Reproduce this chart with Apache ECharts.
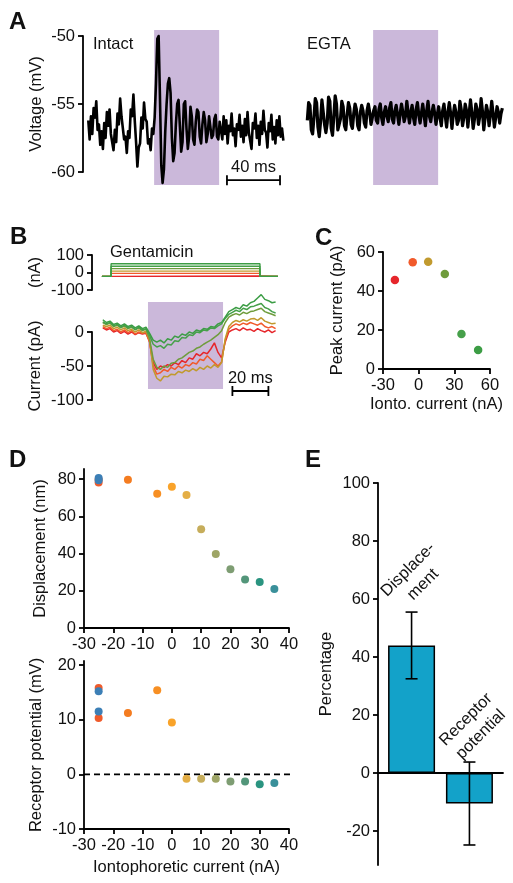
<!DOCTYPE html>
<html><head><meta charset="utf-8">
<script src="https://cdn.jsdelivr.net/npm/echarts@6/dist/echarts.min.js"></script>
<style>html,body{margin:0;padding:0;background:#fff}#c{width:513px;height:883px}</style>
</head><body><div id="c"></div>
<script>
// ================= DATA =================
// Panel A: membrane voltage (mV), sampled every 1 ms starting at 4 ms
const aTraceStart = 4, aTraceStep = 1;
const intactTrace = [
-56.2,-57.6,-55.9,-57.2,-55.3,-56.0,-54.8,-56.9,-56.5,-58.0,
-57.0,-58.3,-56.4,-57.5,-55.6,-56.6,-55.4,-57.2,-57.1,-58.4,
-56.9,-57.8,-55.7,-56.5,-54.6,-55.9,-55.8,-57.6,-57.4,-58.6,
-57.0,-57.5,-55.4,-55.9,-54.3,-56.2,-57.8,-59.6,-58.2,-57.9,
-56.0,-56.8,-54.9,-56.1,-56.3,-57.9,-57.6,-58.4,-56.8,-57.2,
-56.0,-53.5,-50.2,-50.0,-54.5,-59.5,-60.8,-59.8,-57.0,-55.0,
-53.5,-53.1,-54.2,-57.5,-59.2,-58.6,-56.5,-55.0,-54.7,-56.6,
-58.5,-57.8,-55.0,-54.8,-56.8,-58.3,-57.4,-55.2,-55.9,-57.6,
-58.0,-56.3,-55.4,-55.6,-57.4,-57.9,-56.5,-55.6,-56.2,-57.8,
-57.2,-55.9,-56.0,-57.5,-57.3,-56.1,-55.8,-57.4,-57.6,-56.3,
-56.4,-57.6,-55.9,-57.2,-56.2,-57.9,-56.6,-57.0,-55.7,-57.3,
-56.8,-58.1,-56.5,-56.9,-55.8,-57.4,-56.6,-57.8,-56.1,-57.3,
-55.6,-57.1,-57.0,-58.3,-56.4,-56.8,-55.7,-57.5,-56.6,-58.0,
-56.3,-57.2,-55.5,-56.9,-57.1,-58.2,-56.4,-57.0,-55.8,-57.6,
-56.7,-57.9,-56.2,-57.3,-55.9,-57.4,-56.8,-57.7];
const egtaTrace = [
-56.2,-54.9,-55.1,-56.9,-57.2,-56.0,-54.6,-54.9,-56.7,-57.4,
-56.3,-54.7,-54.6,-56.5,-57.1,-56.4,-54.5,-54.8,-56.8,-57.3,
-55.9,-54.4,-55.0,-56.9,-57.0,-56.1,-54.8,-55.2,-56.6,-56.9,
-55.8,-54.9,-55.3,-56.5,-56.8,-55.7,-55.0,-55.4,-56.6,-56.9,
-55.6,-55.1,-55.5,-56.4,-56.7,-55.5,-55.0,-55.6,-56.5,-56.6,
-55.5,-55.2,-56.2,-56.4,-55.4,-55.0,-56.0,-56.5,-55.6,-55.2,
-55.9,-56.3,-55.3,-54.9,-56.1,-56.4,-55.5,-55.1,-55.8,-56.5,
-55.7,-55.0,-55.6,-56.3,-55.9,-54.8,-55.7,-56.4,-55.6,-55.1,
-56.0,-56.5,-55.4,-54.9,-55.8,-56.4,-55.7,-55.0,-55.8,-56.6,
-55.5,-54.8,-55.9,-56.3,-55.6,-55.1,-55.7,-56.5,-55.8,-55.2,
-56.0,-56.6,-55.5,-55.0,-55.9,-56.7,-55.6,-54.9,-55.7,-56.8,
-55.8,-55.1,-55.6,-56.5,-56.2,-54.8,-55.4,-56.6,-56.0,-55.0,
-55.5,-56.7,-55.7,-54.7,-55.6,-56.8,-56.1,-55.0,-55.4,-56.5,
-55.9,-54.6,-55.5,-56.9,-56.0,-55.1,-55.6,-56.6,-55.8,-54.8,
-55.7,-56.7,-56.0,-55.2,-55.6,-56.4,-55.7,-55.3];
const aStim = [53.6, 102.6];          // ms, stimulus window
const aStimV = [-60.95, -49.55];      // mV extent of the shaded window
const aScale = [108.5, 148.5, -60.6]; // 40 ms scale bar

// Panel B: iontophoretic current steps (nA) and hair-cell currents (pA), sampled every 2 ms from 6 ms
const bIonto = [-20, -5, 8, 22, 36, 50];
const bHolding = -22;
const bStepTimes = [5.5, 10.6, 93.3, 103.3]; // start, on, off, end (ms)
const bTraceStart = 6, bTraceStep = 2;
const bCurRed = [6,3,5,0,2,-2,1,-3,0,-4,-1,-3,-2,
 -14,-45,-55,-50,-52,-48,-50,-45,-48,-42,-45,-38,-40,-32,-35,-30,-32,-25,-16,-30,-38,
 -15,0,3,5,2,6,3,4,1,5,2,0,3,-1,2];
const bCurOrange = [8,5,7,2,4,0,3,-1,2,-3,0,-2,-1,
 -15,-50,-62,-60,-55,-58,-52,-55,-50,-53,-48,-50,-45,-47,-40,-42,-35,-40,-45,-50,-44,
 -12,4,9,12,10,13,11,14,12,10,13,8,6,8,5];
const bCurGold = [10,8,10,5,7,3,6,2,4,0,3,-1,1,
 -12,-55,-68,-72,-65,-66,-62,-63,-58,-60,-56,-58,-54,-57,-52,-55,-50,-53,-48,-52,-45,
 -10,8,14,17,15,18,16,19,20,17,21,16,14,12,13];
const bCurOlive = [14,11,13,8,10,6,9,5,7,3,6,2,4,
 -10,-40,-52,-55,-50,-52,-46,-45,-40,-38,-34,-30,-28,-24,-22,-18,-15,-12,-8,-4,2,
 14,22,25,27,25,29,27,30,31,33,35,30,28,26,24];
const bCurGreen36 = [15,12,14,9,11,7,10,6,8,4,7,3,5,
 -5,-18,-22,-20,-24,-18,-19,-13,-14,-8,-9,-4,-5,0,-1,3,2,6,5,9,12,
 20,26,29,32,30,35,33,37,38,40,42,36,34,30,28];
const bCurGreen50 = [18,14,16,11,13,9,12,8,10,6,9,5,7,
 -2,-12,-15,-12,-16,-10,-12,-6,-8,-3,-5,0,-2,3,1,5,4,8,7,12,14,
 22,30,33,36,34,40,38,43,45,50,55,48,46,43,44];
const bStim = [31.1, 72.8];
const bStimI = [-84, 44];
const bScale = [78, 98, -86.8]; // 20 ms scale bar

// Panel C: peak current vs iontophoretic current
const cIonto = [-20, -5, 8, 22, 36, 50];
const cPeak = [45.6, 54.7, 55.0, 48.7, 17.9, 9.7];

// Panel D: displacement & receptor potential vs iontophoretic current
const dIonto = [-25, -25, -25, -25, -15, -5, 0, 5, 10, 15, 20, 25, 30, 35];
const dDisp = [79.8, 78.2, 80.5, 79.3, 79.6, 72.1, 75.9, 71.4, 53.1, 39.7, 31.5, 26.0, 24.7, 21.0];
const dRecep = [15.8, 10.3, 15.2, 11.5, 11.2, 15.4, 9.5, -0.8, -0.8, -0.8, -1.3, -1.3, -1.8, -1.6];
const dZeroLine = [-30, 42.7];

// Panel E: percentage change
const eCategories = ['Displace-\nment', 'Receptor\npotential'];
const ePos = [1, 2];
const eMean = [44.0, -10.5];
const eLow = [32.5, -24.8];
const eHigh = [55.5, 3.8];

// ================= STYLE =================
const FONT = '"Liberation Sans", Arial, Helvetica, sans-serif';
const FS = 16.5;
const TXT = '#111';
const bColors = ['#e6262b', '#f15a2b', '#c19a2e', '#6f9c3c', '#46a04a', '#3c9d45'];
const dColors = ['#ef5b2b', '#ef5b2b', '#3c7fb6', '#3c7fb6', '#f47c20', '#f78f23', '#f9a32a',
                 '#e4ae45', '#c6ad5b', '#9ea566', '#7e9d73', '#53967a', '#2a9480', '#3a909a'];
const purple = '#cbb8da';
const barColor = '#13a2c9';

const ts = {fontSize: FS, fontFamily: FONT, color: TXT};
function vAxis(grid, min, max, extra) {
  return Object.assign({
    gridIndex: grid, type: 'value', min: min, max: max,
    axisLine: {show: true, onZero: false, lineStyle: {color: '#000', width: 1.8}},
    axisTick: {show: true, length: 5, lineStyle: {color: '#000', width: 1.8}},
    axisLabel: {show: true, margin: 8, fontSize: FS, fontFamily: FONT, color: TXT},
    splitLine: {show: false},
    nameLocation: 'middle', nameMoveOverlap: false, nameTextStyle: ts
  }, extra || {});
}
function hidden(grid, min, max) {
  return {gridIndex: grid, type: 'value', min: min, max: max, show: false,
          axisLine: {onZero: false}, splitLine: {show: false}};
}

function series(arr, start, step) { return arr.map((v, i) => [start + i * step, v]); }

function rectItem(color) {
  return function (params, api) {
    const p0 = api.coord([api.value(0), api.value(3)]);
    const p1 = api.coord([api.value(1), api.value(2)]);
    return {type: 'rect', shape: {x: p0[0], y: p0[1], width: p1[0] - p0[0], height: p1[1] - p0[1]},
            style: {fill: color}};
  };
}
function scaleBarItem(label) {
  return function (params, api) {
    const a = api.coord([api.value(0), api.value(2)]);
    const b = api.coord([api.value(1), api.value(2)]);
    const ls = {stroke: '#000', lineWidth: 1.8};
    return {type: 'group', children: [
      {type: 'line', shape: {x1: a[0], y1: a[1], x2: b[0], y2: b[1]}, style: ls},
      {type: 'line', shape: {x1: a[0], y1: a[1] - 5, x2: a[0], y2: a[1] + 5}, style: ls},
      {type: 'line', shape: {x1: b[0], y1: b[1] - 5, x2: b[0], y2: b[1] + 5}, style: ls},
      {type: 'text', x: (a[0] + b[0]) / 2, y: a[1] - 13,
       style: {text: label, fill: TXT, fontSize: FS, fontFamily: FONT, align: 'center', verticalAlign: 'middle',
               textAlign: 'center', textVerticalAlign: 'middle'}}
    ]};
  };
}

const bCurrents = [bCurRed, bCurOrange, bCurGold, bCurOlive, bCurGreen36, bCurGreen50];

const seriesList = [];
// ---- A ----
seriesList.push({type: 'custom', xAxisIndex: 0, yAxisIndex: 0, z: 1, renderItem: rectItem(purple),
  data: [[aStim[0], aStim[1], aStimV[0], aStimV[1]]]});
seriesList.push({type: 'line', xAxisIndex: 0, yAxisIndex: 0, z: 3, clip: false, symbol: 'none',
  lineStyle: {color: '#000', width: 2.6, join: 'round'}, data: series(intactTrace, aTraceStart, aTraceStep)});
seriesList.push({type: 'custom', xAxisIndex: 0, yAxisIndex: 0, z: 3, renderItem: scaleBarItem('40 ms'),
  data: [aScale]});
seriesList.push({type: 'custom', xAxisIndex: 1, yAxisIndex: 1, z: 1, renderItem: rectItem(purple),
  data: [[aStim[0], aStim[1], aStimV[0], aStimV[1]]]});
seriesList.push({type: 'line', xAxisIndex: 1, yAxisIndex: 1, z: 3, clip: false, symbol: 'none',
  lineStyle: {color: '#000', width: 3.2, join: 'round'}, data: series(egtaTrace, aTraceStart, aTraceStep)});
// ---- B steps ----
bIonto.forEach((lvl, i) => {
  seriesList.push({type: 'line', xAxisIndex: 2, yAxisIndex: 2, z: 3, clip: false, symbol: 'none',
    lineStyle: {color: bColors[i], width: 1.4},
    data: [[bStepTimes[0], bHolding], [bStepTimes[1], bHolding], [bStepTimes[1], lvl],
           [bStepTimes[2], lvl], [bStepTimes[2], bHolding], [bStepTimes[3], bHolding]]});
});
// ---- B currents ----
seriesList.push({type: 'custom', xAxisIndex: 3, yAxisIndex: 3, z: 1, renderItem: rectItem(purple),
  data: [[bStim[0], bStim[1], bStimI[0], bStimI[1]]]});
bCurrents.forEach((arr, i) => {
  seriesList.push({type: 'line', xAxisIndex: 3, yAxisIndex: 3, z: 3, clip: false, symbol: 'none',
    lineStyle: {color: bColors[i], width: 1.5}, data: series(arr, bTraceStart, bTraceStep)});
});
seriesList.push({type: 'custom', xAxisIndex: 3, yAxisIndex: 3, z: 3, renderItem: scaleBarItem('20 ms'),
  data: [bScale]});
// ---- C ----
seriesList.push({type: 'scatter', xAxisIndex: 4, yAxisIndex: 4, symbolSize: 8.5, clip: false,
  data: cIonto.map((x, i) => ({value: [x, cPeak[i]], itemStyle: {color: bColors[i], opacity: 1}}))});
// ---- D ----
seriesList.push({type: 'scatter', xAxisIndex: 5, yAxisIndex: 5, symbolSize: 8, clip: false,
  data: dIonto.map((x, i) => ({value: [x, dDisp[i]], itemStyle: {color: dColors[i], opacity: 1}}))});
seriesList.push({type: 'line', xAxisIndex: 6, yAxisIndex: 6, clip: false, symbol: 'none', z: 1,
  lineStyle: {color: '#000', width: 1.8, type: [6, 4]}, data: [[dZeroLine[0], 0], [dZeroLine[1], 0]]});
seriesList.push({type: 'scatter', xAxisIndex: 6, yAxisIndex: 6, symbolSize: 8, clip: false, z: 3,
  data: dIonto.map((x, i) => ({value: [x, dRecep[i]], itemStyle: {color: dColors[i], opacity: 1}}))});
// ---- E ----
seriesList.push({type: 'bar', xAxisIndex: 7, yAxisIndex: 7, barWidth: 47, z: 2,
  itemStyle: {color: barColor, borderColor: '#000', borderWidth: 1.5},
  data: ePos.map((x, i) => [x, eMean[i]])});
seriesList.push({type: 'custom', xAxisIndex: 7, yAxisIndex: 7, z: 4,
  data: ePos.map((x, i) => [x, eLow[i], eHigh[i]]),
  renderItem: function (params, api) {
    const lo = api.coord([api.value(0), api.value(1)]);
    const hi = api.coord([api.value(0), api.value(2)]);
    const ls = {stroke: '#000', lineWidth: 1.6};
    return {type: 'group', children: [
      {type: 'line', shape: {x1: lo[0], y1: lo[1], x2: hi[0], y2: hi[1]}, style: ls},
      {type: 'line', shape: {x1: lo[0] - 6, y1: lo[1], x2: lo[0] + 6, y2: lo[1]}, style: ls},
      {type: 'line', shape: {x1: hi[0] - 6, y1: hi[1], x2: hi[0] + 6, y2: hi[1]}, style: ls}
    ]};
  }});
seriesList.push({type: 'custom', xAxisIndex: 7, yAxisIndex: 7, z: 4,
  data: ePos.map((x, i) => [x, eHigh[i]]),
  renderItem: function (params, api) {
    const p = api.coord([api.value(0), api.value(1)]);
    return {type: 'text', x: p[0] + 4, y: p[1] - 35, rotation: Math.PI / 4,
      style: {text: eCategories[params.dataIndex], fill: TXT, fontSize: FS, fontFamily: FONT, lineHeight: 21,
              align: 'center', verticalAlign: 'middle', textAlign: 'center', textVerticalAlign: 'middle'}};
  }});

function gtext(txt, x, y, opts) {
  return Object.assign({type: 'text', x: x, y: y,
    style: {text: txt, fill: TXT, font: (opts && opts.bold ? 'bold 24px ' : FS + 'px ') + FONT,
            textAlign: (opts && opts.align) || 'left', textVerticalAlign: 'middle',
            align: (opts && opts.align) || 'left', verticalAlign: 'middle'}});
}

const option = {
  animation: false,
  backgroundColor: '#fff',
  grid: [
    {left: 83, top: 36, width: 203, height: 136, outerBoundsMode: 'none'},
    {left: 302, top: 36, width: 203, height: 136, outerBoundsMode: 'none'},
    {left: 92, top: 255, width: 189, height: 35, outerBoundsMode: 'none'},
    {left: 92, top: 332, width: 189, height: 68, outerBoundsMode: 'none'},
    {left: 383, top: 252, width: 107, height: 117, outerBoundsMode: 'none'},
    {left: 84, top: 469, width: 205, height: 159, outerBoundsMode: 'none'},
    {left: 84, top: 661, width: 205, height: 168, outerBoundsMode: 'none'},
    {left: 378, top: 483, width: 125, height: 382, outerBoundsMode: 'none'}
  ],
  xAxis: [
    hidden(0, 0, 153),
    hidden(1, 0, 153),
    hidden(2, 0, 105),
    hidden(3, 0, 105),
    vAxis(4, -30, 60, {interval: 30, name: 'Ionto. current (nA)', nameGap: 27}),
    vAxis(5, -30, 40, {interval: 10}),
    vAxis(6, -30, 40, {interval: 10, name: 'Iontophoretic current (nA)', nameGap: 30}),
    {gridIndex: 7, type: 'value', min: 0.42, max: 2.58,
     axisLine: {show: true, onZero: true, lineStyle: {color: '#000', width: 1.8}},
     axisTick: {show: false}, axisLabel: {show: false}, splitLine: {show: false}}
  ],
  yAxis: [
    vAxis(0, -60, -50, {interval: 5, name: 'Voltage (mV)', nameGap: 38}),
    hidden(1, -60, -50),
    vAxis(2, -100, 100, {interval: 100, name: '(nA)', nameGap: 48}),
    vAxis(3, -100, 0, {interval: 50, name: 'Current (pA)', nameGap: 48}),
    vAxis(4, 0, 60, {interval: 20, name: 'Peak current (pA)', nameGap: 37}),
    vAxis(5, 0, 85.4, {name: 'Displacement (nm)', nameGap: 35,
      axisLabel: {margin: 8, fontSize: FS, fontFamily: FONT, color: TXT, customValues: [0, 20, 40, 60, 80]},
      axisTick: {show: true, length: 5, lineStyle: {color: '#000', width: 1.8}, customValues: [0, 20, 40, 60, 80]}}),
    vAxis(6, -10, 20.73, {name: 'Receptor potential (mV)', nameGap: 39,
      axisLabel: {margin: 8, fontSize: FS, fontFamily: FONT, color: TXT, customValues: [-10, 0, 10, 20]},
      axisTick: {show: true, length: 5, lineStyle: {color: '#000', width: 1.8}, customValues: [-10, 0, 10, 20]}}),
    vAxis(7, -31.7, 100, {name: 'Percentage', nameGap: 43,
      axisLabel: {margin: 8, fontSize: FS, fontFamily: FONT, color: TXT, customValues: [-20, 0, 20, 40, 60, 80, 100]},
      axisTick: {show: true, length: 5, lineStyle: {color: '#000', width: 1.8}, customValues: [-20, 0, 20, 40, 60, 80, 100]}})
  ],
  graphic: [
    gtext('A', 9, 22, {bold: true}),
    gtext('B', 10, 237, {bold: true}),
    gtext('C', 315, 238, {bold: true}),
    gtext('D', 9, 460, {bold: true}),
    gtext('E', 305, 460, {bold: true}),
    gtext('Intact', 93, 44),
    gtext('EGTA', 307, 44),
    gtext('Gentamicin', 110, 252)
  ],
  series: seriesList
};

const chart = echarts.init(document.getElementById('c'), null, {renderer: 'canvas'});
chart.setOption(option);
</script>
</body></html>
